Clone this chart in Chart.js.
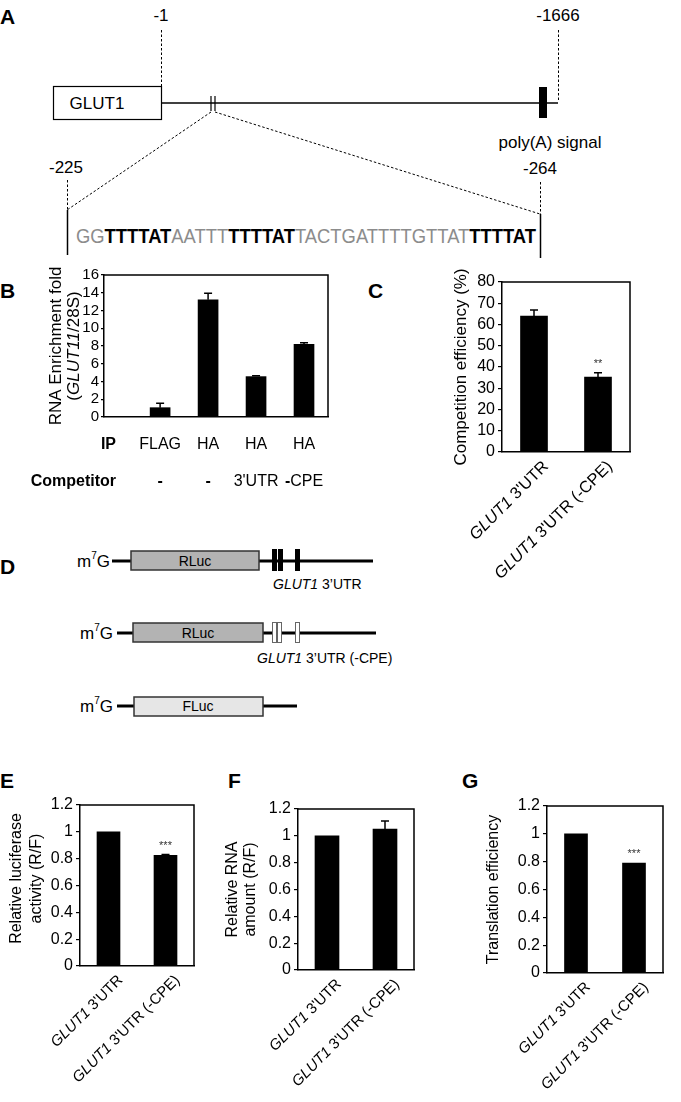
<!DOCTYPE html>
<html>
<head>
<meta charset="utf-8">
<script src="https://cdn.jsdelivr.net/npm/chart.js@4/dist/chart.umd.min.js"></script>
<style>
  body { margin: 0; background: #fff; }
  #page { position: relative; width: 681px; height: 1102px; overflow: hidden; }
  #page svg, #page canvas { position: absolute; }
  svg text { font-family: "Liberation Sans", Arial, sans-serif; fill: #000; }
</style>
</head>
<body>
<div id="page">
  <svg width="681" height="1102" style="left:0;top:0">
    <!-- panel letters -->
    <g font-size="21" font-weight="bold">
      <text x="0" y="24">A</text>
      <text x="0" y="298">B</text>
      <text x="368" y="298">C</text>
      <text x="0" y="574">D</text>
      <text x="0" y="788">E</text>
      <text x="228" y="788">F</text>
      <text x="462" y="788">G</text>
    </g>

    <!-- A: GLUT1 3'UTR map -->
    <g stroke="#000" fill="none">
      <line x1="161.5" y1="30" x2="161.5" y2="87" stroke-dasharray="2.5,2"/>
      <line x1="558.5" y1="30" x2="558.5" y2="102" stroke-dasharray="2.5,2"/>
      <rect x="53.5" y="86.5" width="108" height="33" fill="#fff" stroke-width="1.2"/>
      <line x1="161" y1="103" x2="558" y2="103" stroke-width="1.5"/>
      <line x1="211" y1="96" x2="211" y2="111" stroke-width="1.2"/>
      <line x1="215" y1="96" x2="215" y2="111" stroke-width="1.2"/>
      <line x1="211" y1="112" x2="67" y2="210" stroke-dasharray="2.5,2"/>
      <line x1="215" y1="112" x2="540" y2="214" stroke-dasharray="2.5,2"/>
      <line x1="67.5" y1="180" x2="67.5" y2="210" stroke-dasharray="2.5,2"/>
      <line x1="540.5" y1="182" x2="540.5" y2="214" stroke-dasharray="2.5,2"/>
      <line x1="67.5" y1="210" x2="67.5" y2="255" stroke-width="1.5"/>
      <line x1="540.5" y1="214" x2="540.5" y2="258" stroke-width="1.5"/>
    </g>
    <rect x="539" y="87" width="8" height="31" fill="#000"/>
    <g font-size="17" text-anchor="middle">
      <text x="161" y="21">-1</text>
      <text x="558" y="21">-1666</text>
      <text x="97" y="109">GLUT1</text>
      <text x="550" y="148">poly(A) signal</text>
      <text x="66" y="173">-225</text>
      <text x="540" y="174">-264</text>
    </g>
    <text x="76" y="243" font-size="20" textLength="460" lengthAdjust="spacingAndGlyphs"><tspan fill="#8c8c8c">GG</tspan><tspan font-weight="bold">TTTTAT</tspan><tspan fill="#8c8c8c">AATTT</tspan><tspan font-weight="bold">TTTTAT</tspan><tspan fill="#8c8c8c">TACTGATTTTGTTAT</tspan><tspan font-weight="bold">TTTTAT</tspan></text>

    <!-- D: reporter constructs -->
    <g stroke="#000" stroke-width="3">
      <line x1="112" y1="561" x2="131" y2="561"/>
      <line x1="259" y1="561" x2="373" y2="561"/>
      <line x1="117" y1="633" x2="133" y2="633"/>
      <line x1="263" y1="633" x2="376" y2="633"/>
      <line x1="117" y1="706" x2="134" y2="706"/>
      <line x1="263" y1="706" x2="297" y2="706"/>
    </g>
    <g stroke="#333" stroke-width="1.5">
      <rect x="131" y="551" width="128" height="19" fill="#b3b3b3"/>
      <rect x="133" y="623" width="130" height="19" fill="#b3b3b3"/>
      <rect x="134" y="697" width="129" height="19" fill="#e6e6e6"/>
    </g>
    <g fill="#000">
      <rect x="272" y="549" width="5" height="22"/>
      <rect x="278" y="549" width="5" height="22"/>
      <rect x="295" y="549" width="5" height="22"/>
    </g>
    <g fill="#fff" stroke="#666" stroke-width="1">
      <rect x="272.5" y="622.5" width="4" height="20"/>
      <rect x="277.5" y="622.5" width="4" height="20"/>
      <rect x="295.5" y="622.5" width="4" height="20"/>
    </g>
    <g font-size="14" text-anchor="middle">
      <text x="195" y="566">RLuc</text>
      <text x="198" y="638">RLuc</text>
      <text x="198" y="711">FLuc</text>
    </g>
    <g font-size="17" text-anchor="end">
      <text x="110" y="567">m<tspan font-size="10" dy="-8">7</tspan><tspan dy="8">G</tspan></text>
      <text x="113" y="639">m<tspan font-size="10" dy="-8">7</tspan><tspan dy="8">G</tspan></text>
      <text x="113" y="712">m<tspan font-size="10" dy="-8">7</tspan><tspan dy="8">G</tspan></text>
    </g>
    <g font-size="14">
      <text x="273" y="589"><tspan font-style="italic">GLUT1</tspan> 3’UTR</text>
      <text x="257" y="663"><tspan font-style="italic">GLUT1</tspan> 3’UTR (-CPE)</text>
    </g>
  </svg>

  <canvas id="chartB" width="335" height="240" style="left:0px;top:262px"></canvas>
  <canvas id="chartC" width="218" height="320" style="left:420px;top:262px"></canvas>
  <canvas id="chartE" width="202" height="306" style="left:0px;top:790px"></canvas>
  <canvas id="chartF" width="202" height="306" style="left:220px;top:794px"></canvas>
  <canvas id="chartG" width="203" height="307" style="left:468px;top:791px"></canvas>
</div>

<script>
// B: RNA immunoprecipitation
const ipLabels = ["FLAG", "HA", "HA", "HA"];
const competitorLabels = ["-", "-", "3'UTR", "-CPE"];
const enrichment = [1.05, 13.2, 4.55, 8.2];
const enrichmentErr = [0.5, 0.75, 0.1, 0.18];

// C, E, F, G share the two reporters
const geneName = "GLUT1";
const utrLabels = ["3'UTR", "3'UTR (-CPE)"];

const competition = [64, 35.3];
const competitionErr = [2.8, 2];
const competitionStars = ["", "**"];

const luciferase = [1, 0.825];
const luciferaseErr = [0, 0.006];
const luciferaseStars = ["", "***"];

const rnaAmount = [1, 1.05];
const rnaAmountErr = [0, 0.06];

const translation = [1, 0.79];
const translationErr = [0, 0];
const translationStars = ["", "***"];

const FONT = "'Liberation Sans', Arial, sans-serif";

// draw a row of text pieces with mixed bold/italic
function drawRuns(ctx, runs, size, x, y, align) {
  const fontFor = (r) => (r.italic ? "italic " : "") + (r.bold ? "bold " : "") + size + "px " + FONT;
  let total = 0;
  runs.forEach((r) => {
    ctx.font = fontFor(r);
    total += ctx.measureText(r.text).width;
  });
  let cx = align === "center" ? x - total / 2 : align === "right" ? x - total : x;
  ctx.textAlign = "left";
  runs.forEach((r) => {
    ctx.font = fontFor(r);
    ctx.fillText(r.text, cx, y);
    cx += ctx.measureText(r.text).width;
  });
}

const framePlugin = {
  id: "frame",
  afterDraw(chart) {
    const { ctx, chartArea: a } = chart;
    ctx.save();
    ctx.strokeStyle = "#000";
    ctx.lineWidth = 1.5;
    ctx.beginPath();
    ctx.moveTo(a.left, a.top);
    ctx.lineTo(a.right, a.top);
    ctx.lineTo(a.right, a.bottom);
    ctx.stroke();
    ctx.restore();
  },
};

const errorBarPlugin = {
  id: "errorBars",
  afterDatasetsDraw(chart, args, opts) {
    const { ctx } = chart;
    const y = chart.scales.y;
    const data = chart.data.datasets[0].data;
    ctx.save();
    chart.getDatasetMeta(0).data.forEach((bar, i) => {
      const v = typeof data[i] === "object" ? data[i].y : data[i];
      const e = (opts.errors || [])[i] || 0;
      const top = y.getPixelForValue(v + e);
      if (e > 0) {
        ctx.strokeStyle = "#000";
        ctx.lineWidth = 1.5;
        ctx.beginPath();
        ctx.moveTo(bar.x, bar.y);
        ctx.lineTo(bar.x, top);
        ctx.moveTo(bar.x - 4, top);
        ctx.lineTo(bar.x + 4, top);
        ctx.stroke();
      }
      const star = (opts.stars || [])[i];
      if (star) {
        ctx.fillStyle = "#333";
        ctx.textBaseline = "middle";
        drawRuns(ctx, [{ text: star }], 11, bar.x, top - 9, "center");
      }
    });
    ctx.restore();
  },
};

const slantLabelPlugin = {
  id: "slantLabels",
  afterDraw(chart, args, opts) {
    if (!opts.labels) return;
    const { ctx, chartArea: a } = chart;
    opts.labels.forEach((runs, i) => {
      const px = chart.scales.x.getPixelForValue(i);
      ctx.save();
      ctx.translate(px + opts.dx, a.bottom + opts.dy);
      ctx.rotate(-Math.PI / 4);
      ctx.fillStyle = "#000";
      ctx.textBaseline = "middle";
      drawRuns(ctx, runs, opts.size, 0, 0, "right");
      ctx.restore();
    });
  },
};

const yTitlePlugin = {
  id: "yTitle",
  afterDraw(chart, args, opts) {
    if (!opts.lines) return;
    const { ctx, chartArea: a } = chart;
    const cy = (a.top + a.bottom) / 2 + (opts.dy || 0);
    opts.lines.forEach((runs, i) => {
      ctx.save();
      ctx.translate(a.left - opts.offsets[i], cy);
      ctx.rotate(-Math.PI / 2);
      ctx.fillStyle = "#000";
      ctx.textBaseline = "middle";
      drawRuns(ctx, runs, opts.size, 0, 0, "center");
      ctx.restore();
    });
  },
};

const rowLabelPlugin = {
  id: "rowLabels",
  afterDraw(chart, args, opts) {
    if (!opts.rows) return;
    const { ctx, chartArea: a } = chart;
    ctx.save();
    ctx.fillStyle = "#000";
    ctx.textBaseline = "middle";
    opts.rows.forEach((row) => {
      const y = a.bottom + row.dy;
      drawRuns(ctx, [{ text: row.title, bold: true }], opts.size, a.left - opts.titleGap, y, "right");
      row.cells.forEach((label, i) => {
        const px = chart.scales.x.getPixelForValue(i);
        const runs = label.startsWith("-")
          ? [{ text: "-", bold: true }, { text: label.slice(1) }]
          : [{ text: label }];
        drawRuns(ctx, runs, opts.size, px, y, "center");
      });
    });
    ctx.restore();
  },
};

const geneLabels = utrLabels.map((u) => [{ text: geneName, italic: true }, { text: " " + u }]);

function barChart(id, cfg) {
  const numberTick = (v) => String(+Number(v).toFixed(1));
  return new Chart(document.getElementById(id), {
    type: "bar",
    data: {
      labels: cfg.labels,
      datasets: [{ data: cfg.values, backgroundColor: "#000", barThickness: cfg.barWidth }],
    },
    options: {
      responsive: false,
      animation: false,
      layout: { padding: { top: cfg.padTop, right: cfg.padRight, left: 0, bottom: 0 } },
      plugins: {
        legend: { display: false },
        tooltip: { enabled: false },
        errorBars: { errors: cfg.errors, stars: cfg.stars },
        slantLabels: cfg.slant || {},
        yTitle: cfg.yTitle,
        rowLabels: cfg.rows || {},
      },
      scales: {
        x: Object.assign(
          {
            offset: true,
            grid: { display: false },
            border: { display: true, color: "#000", width: 1.5 },
            ticks: { display: false },
            afterFit: (s) => { s.height = cfg.xHeight; },
          },
          cfg.xScale || {}
        ),
        y: {
          min: 0,
          max: cfg.yMax,
          ticks: {
            stepSize: cfg.yStep,
            autoSkip: false,
            color: "#000",
            padding: cfg.tickPad || 3,
            font: { family: FONT, size: cfg.tickSize || 16 },
            callback: numberTick,
          },
          grid: { drawOnChartArea: false, tickLength: cfg.tickLen || 4, color: "#000", lineWidth: 1.2 },
          border: { display: true, color: "#000", width: 1.5 },
          afterFit: (s) => { s.width = cfg.yWidth; },
        },
      },
    },
    plugins: [framePlugin, errorBarPlugin, slantLabelPlugin, yTitlePlugin, rowLabelPlugin],
  });
}

// B
barChart("chartB", {
  values: enrichment.map((v, i) => ({ x: i, y: v })),
  errors: enrichmentErr,
  barWidth: 20,
  xScale: { type: "linear", offset: false, min: -1.17, max: 3.5 },
  yMax: 16, yStep: 2,
  tickSize: 15, tickPad: 2, tickLen: 3,
  padTop: 13, padRight: 7, yWidth: 104, xHeight: 85,
  yTitle: {
    size: 17,
    offsets: [48, 30],
    lines: [
      [{ text: "RNA Enrichment fold" }],
      [{ text: "(" }, { text: "GLUT11", italic: true }, { text: "/28S)" }],
    ],
  },
  rows: {
    size: 16,
    titleGap: -12,
    rows: [
      { title: "IP", dy: 28, cells: ipLabels },
      { title: "Competitor", dy: 65, cells: competitorLabels },
    ],
  },
});

// C
barChart("chartC", {
  labels: utrLabels,
  values: competition,
  errors: competitionErr,
  stars: competitionStars,
  barWidth: 27,
  yMax: 80, yStep: 10,
  padTop: 20, padRight: 8, yWidth: 82, xHeight: 130,
  yTitle: { size: 17, offsets: [41], lines: [[{ text: "Competition efficiency (%)" }]] },
  slant: { labels: geneLabels, size: 16.5, dx: 12, dy: 12 },
});

// E
barChart("chartE", {
  labels: utrLabels,
  values: luciferase,
  errors: luciferaseErr,
  stars: luciferaseStars,
  barWidth: 23,
  yMax: 1.2, yStep: 0.2,
  padTop: 15, padRight: 8, yWidth: 80, xHeight: 130,
  yTitle: {
    size: 16,
    offsets: [63, 43],
    dy: -7,
    lines: [[{ text: "Relative luciferase" }], [{ text: "activity (R/F)" }]],
  },
  slant: { labels: geneLabels, size: 15, dx: 12, dy: 12 },
});

// F
barChart("chartF", {
  labels: utrLabels,
  values: rnaAmount,
  errors: rnaAmountErr,
  barWidth: 24,
  yMax: 1.2, yStep: 0.2,
  padTop: 15, padRight: 8, yWidth: 78, xHeight: 130,
  yTitle: {
    size: 16,
    offsets: [65, 47],
    lines: [[{ text: "Relative RNA" }], [{ text: "amount (R/F)" }]],
  },
  slant: { labels: geneLabels, size: 15, dx: 12, dy: 12 },
});

// G
barChart("chartG", {
  labels: utrLabels,
  values: translation,
  errors: translationErr,
  stars: translationStars,
  barWidth: 23,
  yMax: 1.2, yStep: 0.2,
  padTop: 15, padRight: 8, yWidth: 79, xHeight: 125,
  yTitle: { size: 16, offsets: [53], lines: [[{ text: "Translation efficiency" }]] },
  slant: { labels: geneLabels, size: 15, dx: 12, dy: 12 },
});
</script>
</body>
</html>
